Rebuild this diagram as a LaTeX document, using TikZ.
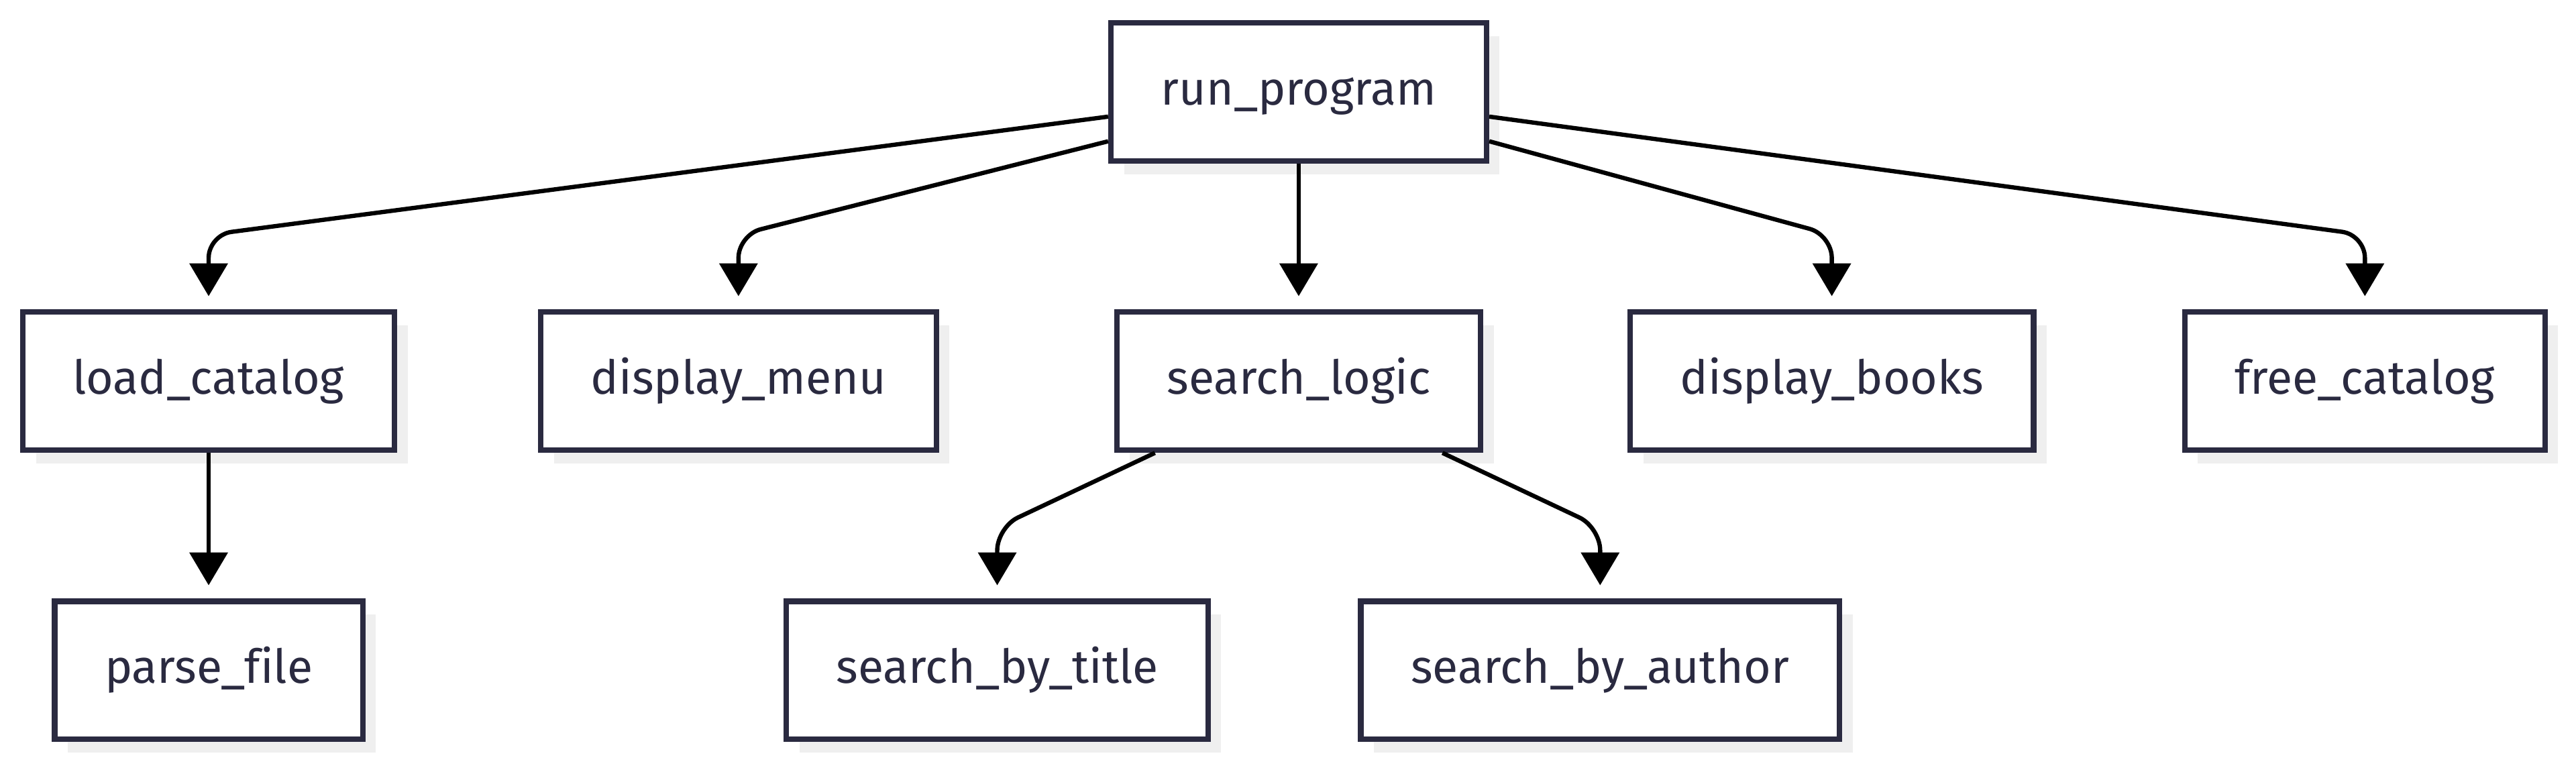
\documentclass[tikz,border=0pt]{standalone}
\usepackage{fontspec}
\setmainfont{Fira Sans}[Ligatures=NoCommon]
\usetikzlibrary{arrows.meta,positioning,calc,shadows}
\definecolor{boxline}{HTML}{2A2A40}
\definecolor{boxtext}{HTML}{2A2A40}
\definecolor{shadowgray}{HTML}{EFEFEF}

\begin{document}
\begin{tikzpicture}[
  x=1pt, y=-1pt,
  func/.style={draw=boxline, line width=3.4pt, fill=white, minimum height=84pt,
    inner xsep=30.5pt, text=boxtext, font=\fontsize{28.5}{32}\selectfont,
    text height=22pt, text depth=6pt,
    drop shadow={shadow xshift=8pt, shadow yshift=-8pt, fill=shadowgray, opacity=1}},
  call/.style={line width=2.6pt, -{Triangle[length=20pt,width=23pt]}, rounded corners=14pt},
]
  \fill[white] (0,0) rectangle (1568,466);
  \useasboundingbox (0,0) rectangle (1568,466);

  % Bend rows
  \coordinate (bend1) at (0,143);
  \coordinate (bend2) at (0,321);

  % Functions
  \node[func] (run) at (790.5,56) {run\_program};

  \node[func] (load) at (127,232) {load\_catalog};
  \node[func] (menu) at (449.5,232) {display\_menu};
  \node[func] (logic) at (790.5,232) {search\_logic};
  \node[func] (books) at (1115,232) {display\_books};
  \node[func] (free) at (1439.5,232) {free\_catalog};

  \node[func] (parse) at (127,408) {parse\_file};
  \node[func] (title) at (607,408) {search\_by\_title};
  \node[func] (author) at (974,408) {search\_by\_author};

  % Calls
  \draw[call] ([yshift=-15pt]run.west) -- (load.north |- bend1) -- ([yshift=8pt]load.north);
  \draw[call] ([yshift=-30pt]run.west) -- (menu.north |- bend1) -- ([yshift=8pt]menu.north);
  \draw[call] (run.south) -- ([yshift=8pt]logic.north);
  \draw[call] ([yshift=-30pt]run.east) -- (books.north |- bend1) -- ([yshift=8pt]books.north);
  \draw[call] ([yshift=-15pt]run.east) -- (free.north |- bend1) -- ([yshift=8pt]free.north);

  \draw[call] (load.south) -- ([yshift=8pt]parse.north);
  \draw[call] ([xshift=-87.5pt]logic.south) -- (title.north |- bend2) -- ([yshift=8pt]title.north);
  \draw[call] ([xshift=87.5pt]logic.south) -- (author.north |- bend2) -- ([yshift=8pt]author.north);
\end{tikzpicture}
\end{document}
